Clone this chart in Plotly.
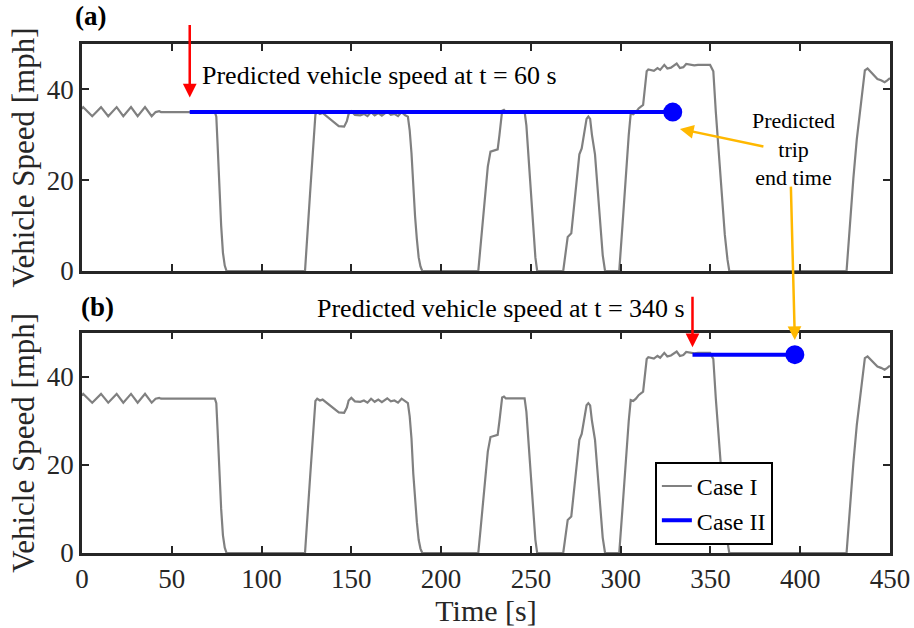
import plotly.graph_objects as go

# Case I: measured vehicle speed profile [s], [mph]
time_s = [0, 0.7, 5.7, 10.6, 14.6, 19.3, 23, 27.3, 31, 35.1, 38.8, 41, 43, 44,
          74, 74.8, 75.5, 76.5, 77.5, 78.5, 79.5, 80.5,
          124.2, 127, 130, 131, 132.5, 134, 137, 140, 143, 146, 147.5, 148.5, 150,
          152, 155, 157, 159, 161, 163, 165, 167, 170, 172, 174, 176, 178, 180,
          181.5, 182.5, 183.5, 184.5, 185.5, 186.5, 187.5, 188.5, 189.5,
          220.7, 222, 224, 226, 227.5, 231.5, 232.5, 234, 235, 236, 246.5,
          247.5, 249.5, 251.5, 252.5, 253.5,
          268, 269, 270.5, 272.5, 274, 276, 277, 278.3, 279.5, 281, 282, 283,
          284, 285.7, 287, 288.5, 290, 291.3,
          299.2, 301, 303, 304.5, 305.6, 307, 308.5, 310, 312.5, 313.5, 314.5,
          315.4, 317, 318.5, 320.5, 322, 324.3, 326, 328, 331.2, 333, 334.9,
          336.5, 338.6, 341, 343, 349.8, 351.6, 353, 355.7, 358, 359.5, 360.5,
          425.8, 427.5, 429.6, 431.5, 433.3, 434.5, 436, 437.5, 439, 441, 443,
          445, 447, 448.5, 450]
speed_mph = [35.7, 36.1, 34.1, 36.1, 34.1, 36.1, 34.1, 36.1, 34.1, 36.1, 34.1, 35, 35.2, 35,
             35, 34, 28, 18, 10, 4, 1.2, 0,
             0, 17, 34.5, 35, 34.6, 34.8, 33.8, 32.8, 31.9, 31.8, 33, 34.6, 35.2,
             34.4, 34.3, 34.6, 34.1, 35, 34.3, 34.8, 34.2, 35.1, 34.4, 34.6, 34.1, 35, 34.3,
             34, 31, 26, 18, 12, 7, 3, 1, 0,
             0, 5.5, 15, 23, 26.3, 26.8, 30, 35.3, 35.5, 35.1, 35.1,
             32, 20.4, 8, 3, 0,
             0, 3, 7.5, 8.3, 14, 22, 25.7, 27, 30, 33.5, 34, 33.5,
             30, 25.7, 19, 10, 3.5, 0,
             0, 10, 22, 30, 34.7, 34.5, 35, 35.8, 36.6, 40, 44,
             44.4, 44.2, 44.1, 44.7, 44.3, 45.4, 44.6, 44.8, 45.7, 44.7, 44.9,
             45.6, 45.4, 45.3, 45.4, 45.4, 44, 35, 20.4, 8, 2.5, 0,
             0, 10, 20.4, 29, 35.5, 40, 44.2, 44.6, 44, 43, 42.3,
             42, 41.6, 42, 42.5]

# Case II: predicted constant speed from prediction time to predicted trip end
pred_a_time = [60, 329]
pred_a_speed = [35, 35]
pred_b_time = [340, 397]
pred_b_speed = [45, 45]

x_ticks = [0, 50, 100, 150, 200, 250, 300, 350, 400, 450]
y_ticks = [0, 20, 40]

SERIF = "Liberation Serif"
GRAY = "#808080"
BLUE = "#0000FF"
RED = "#FF0000"
ORANGE = "#FFB800"
INK = "#262626"

fig = go.Figure()

for xa, ya, show in (("x", "y", False), ("x2", "y2", True)):
    fig.add_trace(go.Scatter(x=time_s, y=speed_mph, mode="lines", name="Case I",
                             line=dict(color=GRAY, width=2.2), xaxis=xa, yaxis=ya,
                             showlegend=show, legendrank=1))

for (tx, ty), xa, ya, show in (((pred_a_time, pred_a_speed), "x", "y", False),
                               ((pred_b_time, pred_b_speed), "x2", "y2", True)):
    fig.add_trace(go.Scatter(x=tx, y=ty, mode="lines", name="Case II",
                             line=dict(color=BLUE, width=4), xaxis=xa, yaxis=ya,
                             showlegend=show, legendrank=2))
    fig.add_trace(go.Scatter(x=[tx[-1]], y=[ty[-1]], mode="markers",
                             marker=dict(color=BLUE, size=19), xaxis=xa, yaxis=ya,
                             showlegend=False))

axis_common = dict(range=[0, 450], tickvals=x_ticks, showline=True, linecolor=INK,
                   linewidth=2.5, mirror="ticks", ticks="inside", ticklen=7,
                   tickwidth=2, tickcolor=INK, showgrid=False, zeroline=False,
                   automargin=False,
                   tickfont=dict(family=SERIF, size=27, color=INK))
yaxis_common = dict(range=[0, 50], tickvals=y_ticks, showline=True, linecolor=INK,
                    linewidth=2.5, mirror="ticks", ticks="inside", ticklen=7,
                    tickwidth=2, tickcolor=INK, showgrid=False, zeroline=False,
                    automargin=False,
                    tickfont=dict(family=SERIF, size=27, color=INK),
                    title=dict(text="Vehicle Speed [mph]", standoff=3,
                               font=dict(family=SERIF, size=31, color=INK)))

fig.update_layout(
    width=914, height=628,
    margin=dict(l=82, r=24, t=44, b=75),
    paper_bgcolor="white", plot_bgcolor="white",
    xaxis=dict(axis_common, domain=[0, 1], anchor="y", showticklabels=False),
    yaxis=dict(yaxis_common, domain=[0.554, 1], anchor="x"),
    xaxis2=dict(axis_common, domain=[0, 1], anchor="y2",
                title=dict(text="Time [s]", standoff=4,
                           font=dict(family=SERIF, size=30, color=INK))),
    yaxis2=dict(yaxis_common, domain=[0, 0.433], anchor="x2"),
    legend=dict(x=0.709, y=0.179, xanchor="left", yanchor="top",
                bgcolor="white", bordercolor="black", borderwidth=2,
                font=dict(family=SERIF, size=24, color="black"),
                tracegroupgap=0, itemwidth=30),
    showlegend=True,
)

annotations = [
    dict(text="<b>(a)</b>", xref="paper", yref="paper", x=0.011, y=1.055,
         xanchor="center", yanchor="middle",
         showarrow=False, font=dict(family=SERIF, size=27, color="black")),
    dict(text="<b>(b)</b>", xref="paper", yref="paper", x=0.019, y=0.483,
         xanchor="center", yanchor="middle",
         showarrow=False, font=dict(family=SERIF, size=27, color="black")),
    dict(text="Predicted vehicle speed at t = 60 s", xref="paper", yref="paper",
         x=0.146, y=0.939, xanchor="left", yanchor="middle", showarrow=False,
         font=dict(family=SERIF, size=26, color="black")),
    dict(text="Predicted vehicle speed at t = 340 s", xref="paper", yref="paper",
         x=0.288, y=0.481, xanchor="left", yanchor="middle", showarrow=False,
         font=dict(family=SERIF, size=26, color="black")),
    dict(text="Predicted<br>trip<br>end time", xref="paper", yref="paper",
         x=0.881, y=0.794, xanchor="center", yanchor="middle", showarrow=False,
         align="center", font=dict(family=SERIF, size=22, color="black")),
    # red markers of the prediction instants
    dict(text="", xref="x", yref="y", x=pred_a_time[0], y=38.2, ax=0, ay=-74,
         showarrow=True, arrowhead=2, arrowsize=1.1,
         arrowwidth=2.5, arrowcolor=RED, standoff=0),
    dict(text="", xref="x2", yref="y2", x=pred_b_time[0], y=46.7, ax=0, ay=-52,
         showarrow=True, arrowhead=2, arrowsize=1.1,
         arrowwidth=2.5, arrowcolor=RED, standoff=0),
    # orange pointers to the predicted trip end
    dict(text="", xref="x", yref="y", x=333, y=31.3, ax=85, ay=18,
         showarrow=True, arrowhead=2, arrowsize=1.1, arrowwidth=2.5,
         arrowcolor=ORANGE, standoff=0),
    dict(text="", xref="x2", yref="y2", x=pred_b_time[1], y=48.3, ax=-4, ay=-155,
         showarrow=True, arrowhead=2, arrowsize=1.1, arrowwidth=2.5,
         arrowcolor=ORANGE, standoff=0),
]
fig.update_layout(annotations=annotations)

fig.write_html("out.html")
